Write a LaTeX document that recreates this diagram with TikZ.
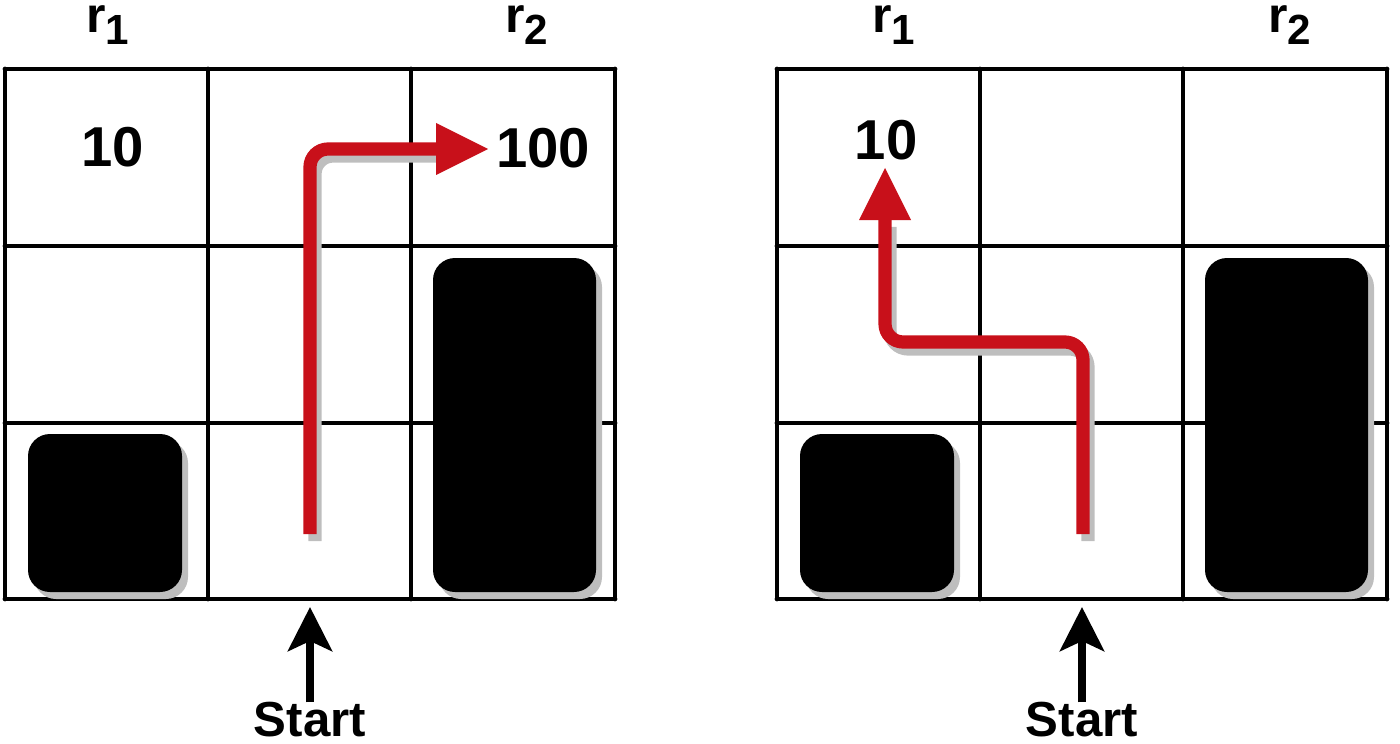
\documentclass[tikz,border=0pt]{standalone}
\usepackage{fontspec}
\setmainfont{Liberation Sans}
\usetikzlibrary{arrows.meta}
\definecolor{routered}{HTML}{C8101A}
\definecolor{shadowgray}{HTML}{BEBEBE}
\newcommand{\rlab}[1]{r\raisebox{-3mm}{\fontsize{30}{32}\selectfont #1}}

\begin{document}
\begin{tikzpicture}[x=0.25mm, y=-0.25mm,
    gridline/.style={line width=1.2mm, line cap=round},
    block/.style={fill=black, rounded corners=5.5mm},
    shade/.style={fill=shadowgray, rounded corners=5.5mm},
    route/.style={draw=routered, line width=3.3mm, rounded corners=4.5mm,
      -{Triangle[length=13mm, width=13mm, line width=0pt]}},
    routeshadow/.style={draw=shadowgray, line width=3.3mm, rounded corners=4.5mm},
    reward/.style={font=\bfseries\fontsize{40}{44}\selectfont, inner sep=0},
    rlabel/.style={font=\bfseries\fontsize{35.5}{40}\selectfont, inner sep=0, anchor=base west},
    startlab/.style={font=\bfseries\fontsize{35}{40}\selectfont, inner sep=0},
    startarrow/.style={line width=2mm, -{Stealth[length=11mm, width=11mm, inset=2.5mm]}}]
  \useasboundingbox (0,0) rectangle (1400,744);

  % the two grid worlds
  \foreach \s/\p in {0/L,772/R} {
    \begin{scope}[shift={(\s,0)}]
      \foreach \x in {5,208,411,615} \draw[gridline] (\x,69) -- (\x,599);
      \foreach \y in {69,246,423,599} \draw[gridline] (5,\y) -- (615,\y);
      % obstacles
      \fill[shade] (34,441) rectangle (188,599);
      \fill[shade] (439,265) rectangle (602,599);
      \fill[block] (28,434) rectangle (182,592);
      \fill[block] (433,258) rectangle (596,592);
      % start
      \node[startlab] (\p start) at (310,720) {Start};
      \coordinate (\p entry) at (310,607);
      \draw[startarrow] (\p start) -- (\p entry);
    \end{scope}
  }

  \node[rlabel] (Lr1) at (86,33) {\rlab{1}};
  \node[rlabel] (Lr2) at (505,33) {\rlab{2}};
  \node[rlabel] (Rr1) at (872,33) {\rlab{1}};
  \node[rlabel] (Rr2) at (1268,33) {\rlab{2}};

  \node[reward] (Lten) at (113,147) {10};
  \node[reward] (Lhundred) at (543,148) {100};
  \node[reward] (Rten) at (886,140) {10};

  % left route: straight up, then right to the big reward
  \coordinate (Lfrom) at (310,534);
  \coordinate (Lbase) at (437,149);
  \coordinate (Lgoal) at (488,149);
  \draw[routeshadow] ([shift={(5,7)}]Lfrom) |- ([shift={(5,7)}]Lbase);
  \draw[route] (Lfrom) |- (Lgoal);

  % right route: up, left, up to the small reward
  \coordinate (Rfrom) at (1083,534);
  \coordinate (Rbend) at (885,342);
  \coordinate (Rbase) at (885,220);
  \coordinate (Rgoal) at (885,168);
  \draw[routeshadow] ([shift={(5,7)}]Rfrom) |- ([shift={(5,7)}]Rbend) -- ([shift={(5,7)}]Rbase);
  \draw[route] (Rfrom) |- (Rbend) -- (Rgoal);
\end{tikzpicture}
\end{document}
